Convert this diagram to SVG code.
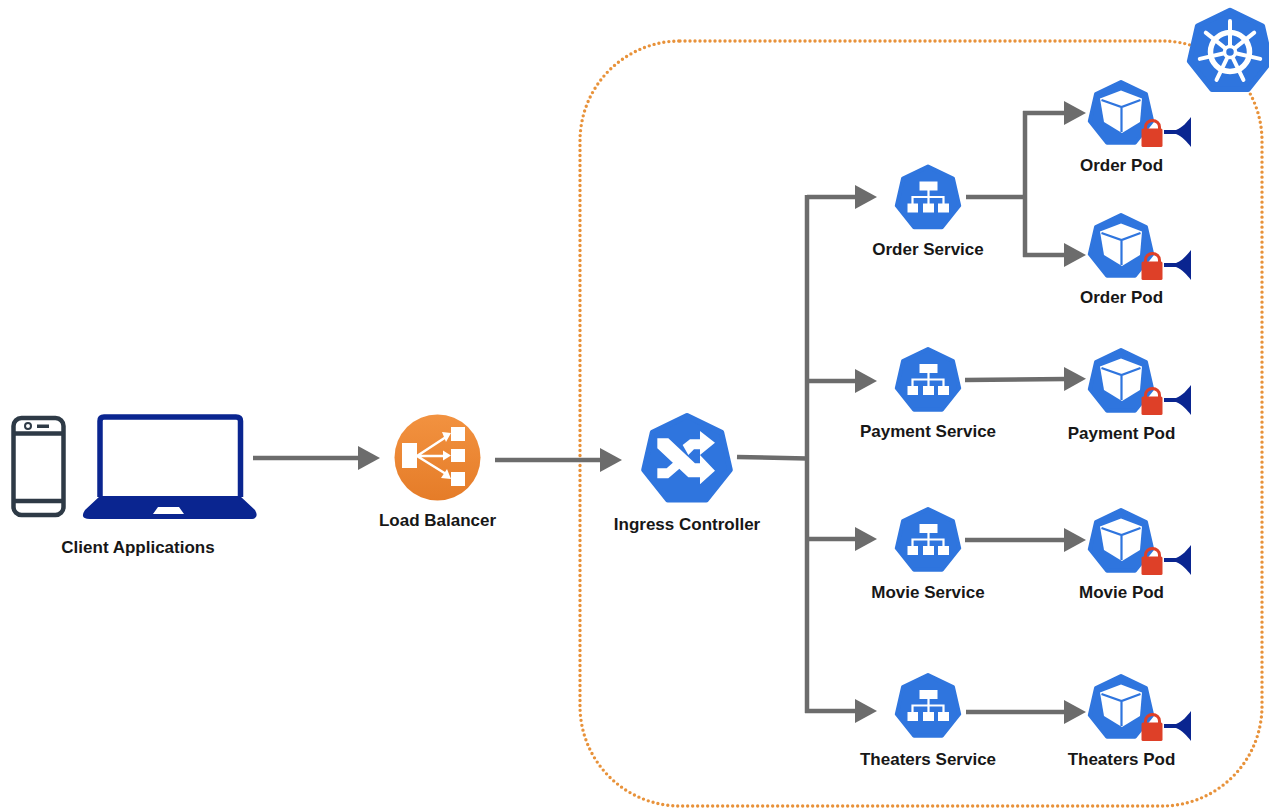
<svg xmlns="http://www.w3.org/2000/svg" width="1269" height="809" viewBox="0 0 1269 809">
<style>
.lbl{font-family:"Liberation Sans",Arial,sans-serif;font-weight:700;font-size:17px;fill:#171717;text-anchor:middle}
.hep{fill:#2f75de;stroke:#2f75de;stroke-width:4;stroke-linejoin:round}
.wire{fill:none;stroke:#6c6c6c;stroke-width:4.500}
.arrow{marker-end:url(#ah)}
.wl{fill:none;stroke:#fff}
.w{fill:#fff}
</style>
<defs>
<marker id="ah" markerUnits="userSpaceOnUse" markerWidth="24" markerHeight="28" refX="2" refY="14" orient="auto"><path d="M0 2 L22 14 L0 26 Z" fill="#6c6c6c"/></marker>
<linearGradient id="org" x1="0" y1="0" x2="0" y2="1"><stop offset="0" stop-color="#f29240"/><stop offset="1" stop-color="#e57c28"/></linearGradient>
<polygon id="h" class="hep" points="0,-32 25,-19.900 31.200,7.100 13.900,28.800 -13.900,28.800 -31.200,7.100 -25,-19.900"/>
<g id="svc">
<use href="#h"/>
<rect class="w" x="-8.500" y="-17" width="18" height="9"/>
<path class="wl" stroke-width="2.200" d="M0.500 -9V-1.500M-15.500 6V-1.500H15.500V6M0.500 -1.500V6"/>
<rect class="w" x="-20.500" y="5" width="10.500" height="9"/>
<rect class="w" x="-5" y="5" width="11" height="9"/>
<rect class="w" x="10" y="5" width="11" height="9"/>
</g>
<g id="pod">
<use href="#h"/>
<path class="w" d="M0 -23.500 L21 -15.500 L19 8 L1 19 L-17 8 L-21 -15.500 Z"/>
<path fill="none" stroke="#2f75de" stroke-width="2.200" d="M-19.500 -14 L0.500 -7 L19.500 -14 M0.500 -7 V18"/>
<path fill="none" stroke="#de4028" stroke-width="3" d="M24.500 16 V13 A7 6.500 0 0 1 38.500 13 V16"/>
<rect x="20.500" y="14.500" width="21" height="18.500" rx="1.500" fill="#de4028"/>
<path fill="#0a2590" d="M43 16 H55 C61 14 66 8 70 3 V33 C66 28 61 22 55 20 H43 Z"/>
</g>
</defs>
<rect id="cluster" x="580" y="41" width="682" height="765" rx="100" ry="100" fill="none" stroke="#e8923a" stroke-width="3.400" stroke-linecap="round" stroke-dasharray="0 5"/>
<g id="connectors">
<path class="wire arrow" d="M253 458H360"/>
<path class="wire arrow" d="M495 460H602"/>
<path class="wire" d="M737 457L807 458.500"/>
<path class="wire arrow" d="M807 197H857"/>
<path class="wire" d="M807 195V713"/>
<path class="wire arrow" d="M805 711H857"/>
<path class="wire arrow" d="M807 381H857"/>
<path class="wire arrow" d="M807 539H857"/>
<path class="wire" d="M966 197H1025"/>
<path class="wire" d="M1025 111V257"/>
<path class="wire arrow" d="M1023 113H1066"/>
<path class="wire arrow" d="M1023 255H1066"/>
<path class="wire arrow" d="M965 380L1066 379"/>
<path class="wire arrow" d="M965 540L1066 540"/>
<path class="wire arrow" d="M966 712H1066"/>
</g>
<g id="client-applications">
<g fill="none" stroke="#2e3a46" stroke-width="4.500">
<rect x="13.500" y="418" width="50" height="97" rx="8"/>
<path d="M13.500 433.500H63.500M13.500 501H63.500"/>
</g>
<circle cx="28" cy="426" r="3" fill="none" stroke="#2e3a46" stroke-width="2"/>
<rect x="37" y="424.500" width="12" height="3.500" fill="#2e3a46"/>
<path d="M100 497V421Q100 417 104 417H236Q240.500 417 240.500 421V497" fill="none" stroke="#0a2590" stroke-width="5.500"/>
<path fill="#0a2590" fill-rule="evenodd" d="M100 496H240L255 510Q260 519 250 519H90Q79 519 85 510Z M158 507L179 507L184 514H153Z"/>
<text class="lbl" x="138" y="553">Client Applications</text>
</g>
<g id="load-balancer">
<circle cx="437.500" cy="457.500" r="43" fill="url(#org)"/>
<rect class="w" x="402" y="443" width="15" height="25"/>
<rect class="w" x="451" y="427" width="14" height="14"/>
<rect class="w" x="451" y="449" width="14" height="13"/>
<rect class="w" x="451" y="472" width="14" height="14"/>
<path class="wl" stroke-width="2.600" d="M417 456L446 437M417 456H446M417 456L446 474"/>
<path class="w" d="M451 433L442 432L446 442ZM451 455.500L443 450.500V460.500ZM451 479L441 478L447 469Z"/>
<text class="lbl" x="437.500" y="526">Load Balancer</text>
</g>
<g id="ingress-controller">
<use href="#h" transform="translate(687 460) scale(1.38)"/>
<g transform="translate(600 400) scale(.3333)">
<path class="w" d="M172 115H205L285 190H300V165L345 212L300 253V232H265L172 145Z"/>
<path class="w" d="M172 205H200L222 185L240 205L205 235H172Z"/>
<path class="w" d="M248 135L270 118H300V93L345 128L300 165V148H282L265 165Z"/>
</g>
<text class="lbl" x="687" y="530">Ingress Controller</text>
</g>
<g id="order-service"><use href="#svc" x="928" y="198.500"/><text class="lbl" x="928" y="255">Order Service</text></g>
<g id="payment-service"><use href="#svc" x="928" y="381"/><text class="lbl" x="928" y="437">Payment Service</text></g>
<g id="movie-service"><use href="#svc" x="928" y="541"/><text class="lbl" x="928" y="598">Movie Service</text></g>
<g id="theaters-service"><use href="#svc" x="928" y="707"/><text class="lbl" x="928" y="765">Theaters Service</text></g>
<g id="order-pod-1"><use href="#pod" x="1121" y="114"/><text class="lbl" x="1121.500" y="171">Order Pod</text></g>
<g id="order-pod-2"><use href="#pod" x="1121" y="247"/><text class="lbl" x="1121.500" y="303">Order Pod</text></g>
<g id="payment-pod"><use href="#pod" x="1121" y="382"/><text class="lbl" x="1121.500" y="439">Payment Pod</text></g>
<g id="movie-pod"><use href="#pod" x="1121" y="542"/><text class="lbl" x="1121.500" y="598">Movie Pod</text></g>
<g id="theaters-pod"><use href="#pod" x="1121" y="708"/><text class="lbl" x="1121.500" y="765">Theaters Pod</text></g>
<g id="kubernetes">
<use href="#h" transform="translate(1230 52) scale(1.3)"/>
<g transform="translate(1230 52)">
<circle class="wl" r="19.500" stroke-width="5.500"/>
<circle class="wl" r="5.500" stroke-width="3.500"/>
<g class="wl" stroke-width="4" stroke-linecap="round">
<path id="sp" d="M0 -7V-31"/>
<use href="#sp" transform="rotate(51.430)"/>
<use href="#sp" transform="rotate(102.860)"/>
<use href="#sp" transform="rotate(154.290)"/>
<use href="#sp" transform="rotate(205.710)"/>
<use href="#sp" transform="rotate(257.140)"/>
<use href="#sp" transform="rotate(308.570)"/>
</g>
</g>
</g>
</svg>
